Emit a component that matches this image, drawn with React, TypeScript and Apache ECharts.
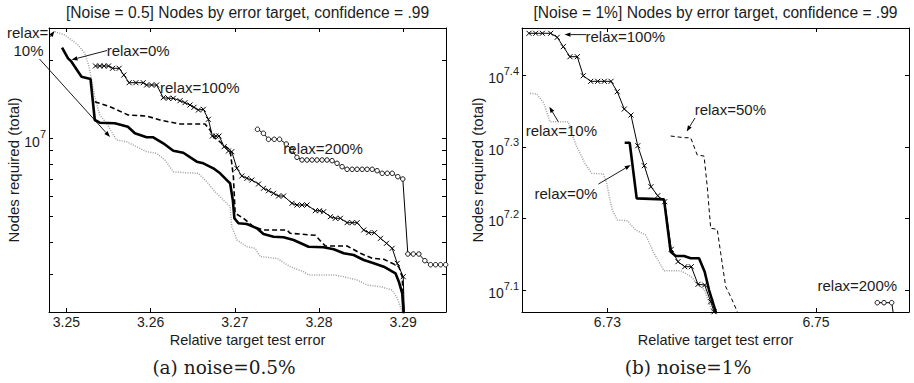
import React, { useEffect, useRef } from 'react';
import * as echarts from 'echarts';

// ---------- ticks ----------
const LEFT_X_TICKS = [3.25, 3.26, 3.27, 3.28, 3.29];
const RIGHT_X_TICKS = [6.73, 6.75];
const LEFT_Y_LABELS = [7];
const LEFT_Y_TICK_NODES = [3e6, 4e6, 5e6, 6e6, 7e6, 8e6, 9e6, 1e7, 2e7];
const RIGHT_Y_TICKS = [7.1, 7.2, 7.3, 7.4];

// ---------- data: [relative target test error, log10(nodes required)] ----------
// (a) noise = 0.5%
const leftRelax0 = [
  [3.24948, 7.3514], [3.25019, 7.3104], [3.2506, 7.2973], [3.25179, 7.2394], [3.25286, 7.2305],
  [3.25337, 7.0722], [3.25396, 7.0618], [3.25575, 7.0595], [3.2573, 7.0463], [3.25813, 7.0208],
  [3.25952, 7.0054], [3.26031, 7.0054], [3.2615, 6.9822], [3.26269, 6.9537], [3.26388, 6.9459],
  [3.26548, 6.9112], [3.26626, 6.905], [3.26745, 6.8857], [3.26825, 6.8664], [3.26944, 6.8278],
  [3.26976, 6.7633], [3.26995, 6.6927], [3.27043, 6.6734], [3.27143, 6.6707], [3.27262, 6.6541],
  [3.2734, 6.632], [3.2746, 6.6216], [3.27579, 6.6193], [3.27698, 6.6089], [3.27876, 6.583],
  [3.28055, 6.5807], [3.28174, 6.573], [3.28293, 6.5575], [3.28412, 6.551], [3.28531, 6.5317],
  [3.2865, 6.5189], [3.28769, 6.5058], [3.28908, 6.4803], [3.28948, 6.4479], [3.28988, 6.4031],
  [3.2901, 6.3]
];
const leftRelax10 = [
  [3.24861, 7.4131], [3.2498, 7.4004], [3.2506, 7.3811], [3.25138, 7.3618], [3.25218, 7.3297],
  [3.25269, 7.278], [3.25337, 7.1622], [3.25396, 7.0915], [3.25476, 7.0595], [3.25595, 6.995],
  [3.25714, 6.9884], [3.25833, 6.9691], [3.25952, 6.9498], [3.26071, 6.9436], [3.2617, 6.9178],
  [3.26269, 6.8726], [3.26408, 6.8687], [3.26567, 6.8664], [3.26667, 6.834], [3.26745, 6.8019],
  [3.26864, 6.7633], [3.26944, 6.7375], [3.26964, 6.6602], [3.27024, 6.6089], [3.27143, 6.583],
  [3.27242, 6.5768], [3.27301, 6.5444], [3.275, 6.5382], [3.27658, 6.5058], [3.27817, 6.4865],
  [3.27876, 6.4737], [3.28174, 6.4737], [3.28293, 6.4672], [3.28452, 6.4544], [3.28571, 6.4351],
  [3.2873, 6.4286], [3.28869, 6.4158], [3.28929, 6.3838], [3.28988, 6.332], [3.29004, 6.3]
];
const leftRelax50 = [
  [3.25337, 7.1429], [3.25515, 7.1236], [3.25733, 7.0915], [3.25952, 7.0876], [3.26111, 7.0722],
  [3.26349, 7.0568], [3.26646, 7.0568], [3.26706, 7.0336], [3.26745, 7.0077], [3.26885, 6.9718],
  [3.26944, 6.9564], [3.26983, 6.8533], [3.27004, 6.712], [3.27102, 6.6927], [3.27221, 6.6602],
  [3.2734, 6.6475], [3.27619, 6.6475], [3.27658, 6.6347], [3.27956, 6.627], [3.28015, 6.6062],
  [3.28075, 6.5857], [3.28333, 6.5857], [3.28492, 6.5575], [3.28631, 6.5382], [3.28769, 6.5344],
  [3.28869, 6.5189], [3.28948, 6.5058], [3.28988, 6.4672], [3.2901, 6.3]
];
const leftRelax100 = [
  [3.25345, 7.2807], [3.25396, 7.2807], [3.25448, 7.2807], [3.255, 7.2807], [3.25548, 7.2718],
  [3.25626, 7.2718], [3.25682, 7.2459], [3.25745, 7.2162], [3.25825, 7.2162], [3.25912, 7.2162],
  [3.25952, 7.2073], [3.26012, 7.2073], [3.26071, 7.2073], [3.2615, 7.1583], [3.2621, 7.156],
  [3.26269, 7.156], [3.26349, 7.1467], [3.26408, 7.139], [3.26468, 7.1301], [3.26515, 7.1212],
  [3.26567, 7.1108], [3.26626, 7.1135], [3.26686, 7.0749], [3.26733, 7.0104], [3.26774, 7.0104],
  [3.26813, 7.0104], [3.26873, 6.9691], [3.26924, 6.9525], [3.26964, 6.9498], [3.27024, 6.8857],
  [3.27083, 6.856], [3.27143, 6.8471], [3.27202, 6.8405], [3.27281, 6.8251], [3.2734, 6.8085],
  [3.274, 6.7992], [3.2746, 6.7892], [3.27519, 6.7788], [3.27579, 6.7788], [3.27679, 6.7506],
  [3.27738, 6.744], [3.27798, 6.744], [3.27857, 6.744], [3.27956, 6.722], [3.28007, 6.722],
  [3.28055, 6.7181], [3.28135, 6.6988], [3.28194, 6.6927], [3.28254, 6.6927], [3.28333, 6.6757],
  [3.28393, 6.6757], [3.28452, 6.6757], [3.28531, 6.6475], [3.2859, 6.6371], [3.28658, 6.6371],
  [3.2873, 6.6154], [3.28801, 6.5961], [3.28869, 6.5768], [3.28929, 6.5189], [3.29, 6.4672],
  [3.29015, 6.3]
];
const leftRelax200 = [
  [3.27269, 7.0363], [3.2734, 7.0208], [3.274, 6.9977], [3.27468, 6.9977], [3.27531, 6.9977],
  [3.27611, 6.9795], [3.27679, 6.9564], [3.27738, 6.9282], [3.27798, 6.9178], [3.27857, 6.9178],
  [3.27917, 6.9178], [3.27976, 6.9178], [3.28036, 6.9178], [3.28095, 6.9178], [3.28155, 6.9151],
  [3.28214, 6.905], [3.28274, 6.8919], [3.28333, 6.8819], [3.28393, 6.8819], [3.28452, 6.8819],
  [3.28512, 6.8819], [3.28571, 6.8819], [3.28631, 6.8819], [3.2869, 6.8764], [3.2875, 6.8664],
  [3.2881, 6.8664], [3.28869, 6.8664], [3.28936, 6.8533], [3.28995, 6.8444], [3.29055, 6.5548],
  [3.29119, 6.5548], [3.29186, 6.5548], [3.29257, 6.529], [3.29325, 6.5135], [3.29385, 6.5135],
  [3.29444, 6.5135], [3.29504, 6.5135]
];

// (b) noise = 1%
const rightRelax0 = [
  [6.73165, 7.3058], [6.73213, 7.3058], [6.7328, 7.2281], [6.73542, 7.2267], [6.73606, 7.1535],
  [6.73654, 7.1475], [6.73734, 7.1475], [6.73798, 7.1443], [6.73878, 7.1443], [6.73932, 7.1256],
  [6.73974, 7.1], [6.74038, 7.0697], [6.7405, 7.058]
];
const rightRelax10 = [
  [6.72257, 7.3749], [6.72321, 7.3739], [6.72391, 7.3609], [6.72448, 7.3352], [6.72624, 7.3352],
  [6.72657, 7.319], [6.72705, 7.3002], [6.72784, 7.277], [6.72848, 7.2631], [6.7296, 7.2621],
  [6.72992, 7.2491], [6.73024, 7.2258], [6.73046, 7.2118], [6.73094, 7.1978], [6.7319, 7.1968],
  [6.73271, 7.1838], [6.73366, 7.1769], [6.73446, 7.1513], [6.73542, 7.127], [6.73702, 7.127],
  [6.73804, 7.1186], [6.73868, 7.107], [6.73932, 7.1], [6.74005, 7.0697], [6.74017, 7.058]
];
const rightRelax50 = [
  [6.73606, 7.3152], [6.73734, 7.3128], [6.73798, 7.3128], [6.73861, 7.2886], [6.73926, 7.2872],
  [6.73957, 7.2443], [6.7399, 7.1862], [6.74053, 7.1848], [6.74086, 7.1513], [6.74134, 7.1046],
  [6.74182, 7.0907], [6.74245, 7.0697], [6.7427, 7.058]
];
const rightRelax100 = [
  [6.72247, 7.4587], [6.72311, 7.4587], [6.72375, 7.4587], [6.72455, 7.4587], [6.72518, 7.4531],
  [6.72576, 7.44], [6.7264, 7.426], [6.7271, 7.426], [6.72768, 7.3994], [6.72839, 7.3916],
  [6.72906, 7.3916], [6.72969, 7.3916], [6.73034, 7.3916], [6.73094, 7.3771], [6.73161, 7.3529],
  [6.73225, 7.3445], [6.7329, 7.3016], [6.73353, 7.2737], [6.73417, 7.2443], [6.73482, 7.2318],
  [6.73549, 7.2234], [6.73612, 7.1569], [6.73676, 7.1396], [6.73741, 7.1326], [6.73804, 7.1326],
  [6.73868, 7.108], [6.73932, 7.107], [6.7399, 7.0837], [6.74022, 7.0697], [6.74041, 7.058]
];
const rightRelax200 = [
  [6.75588, 7.0823], [6.75652, 7.0823], [6.75726, 7.0823], [6.75748, 7.061]
];

// ---------- styling ----------
const SANS = '"Liberation Sans", Arial, Helvetica, sans-serif';
const SERIF = '"DejaVu Serif", "Liberation Serif", serif';
const TEXT = '#1c1c1c';
const CROSS = 'path://M0 0L10 10M10 0L0 10';

const axisLine = { show: true, onZero: false, lineStyle: { color: '#000', width: 1 } };

function xAxes(grid: number, min: number, max: number, ticks: number[]) {
  return [
    {
      type: 'value', gridIndex: grid, min, max, position: 'bottom', axisLine,
      splitLine: { show: false },
      axisTick: { show: true, inside: true, length: 4, customValues: ticks, lineStyle: { color: '#000' } },
      axisLabel: {
        show: true, customValues: ticks, margin: 3, fontSize: 14, fontFamily: SANS, color: TEXT,
        formatter: (v: number) => String(v),
      },
    },
    {
      type: 'value', gridIndex: grid, min, max, position: 'top', axisLine,
      splitLine: { show: false },
      axisTick: { show: true, inside: true, length: 4, customValues: ticks, lineStyle: { color: '#000' } },
      axisLabel: { show: false },
    },
  ];
}

const supRich = {
  b: { fontSize: 14, fontFamily: SANS, color: TEXT, lineHeight: 20, verticalAlign: 'bottom' },
  s: { fontSize: 11, fontFamily: SANS, color: TEXT, lineHeight: 8, verticalAlign: 'top' },
};

function yAxes(grid: number, min: number, max: number, ticks: number[], labels: number[]) {
  return [
    {
      type: 'value', gridIndex: grid, min, max, position: 'left', axisLine,
      splitLine: { show: false },
      axisTick: { show: true, inside: true, length: 4, customValues: ticks, lineStyle: { color: '#000' } },
      axisLabel: {
        show: true, customValues: labels, margin: 3,
        formatter: (v: number) => `{b|10}{s|${+v.toFixed(2)}}`,
        rich: supRich,
      },
    },
    {
      type: 'value', gridIndex: grid, min, max, position: 'right', axisLine,
      splitLine: { show: false },
      axisTick: { show: true, inside: true, length: 4, customValues: ticks, lineStyle: { color: '#000' } },
      axisLabel: { show: false },
    },
  ];
}

type Kind = 'thick' | 'dotted' | 'dashed' | 'cross' | 'circle';
function series(data: number[][], xi: number, yi: number, kind: Kind, thin = false) {
  const base: any = {
    type: 'line', data, xAxisIndex: xi, yAxisIndex: yi, clip: true, silent: true,
    showSymbol: false, symbol: 'none',
  };
  if (kind === 'thick') base.lineStyle = { color: '#000', width: 2.6 };
  if (kind === 'dotted') base.lineStyle = { color: '#a0a0a0', width: 1.5, type: [1, 1.4] };
  if (kind === 'dashed') base.lineStyle = { color: '#000', width: thin ? 1 : 1.6, type: thin ? [4, 3] : [5, 3] };
  if (kind === 'cross') {
    base.lineStyle = { color: '#000', width: 1 };
    base.showSymbol = true; base.symbol = CROSS; base.symbolSize = 5;
    base.itemStyle = { color: 'none', borderColor: '#000', borderWidth: 1 };
  }
  if (kind === 'circle') {
    base.lineStyle = { color: '#000', width: 1 };
    base.showSymbol = true; base.symbol = 'circle'; base.symbolSize = 4.5;
    base.itemStyle = { color: '#fff', borderColor: '#000', borderWidth: 0.9 };
  }
  return base;
}

function txt(text: string, x: number, y: number, opts: any = {}) {
  return {
    type: 'text', x, y, rotation: opts.rotation || 0, z: 10,
    style: {
      text, x: 0, y: 0, fill: TEXT, fontSize: opts.size || 15,
      fontFamily: opts.family || SANS,
      align: opts.align || 'left', verticalAlign: 'middle',
      textAlign: opts.align || 'left', textVerticalAlign: 'middle',
    },
  };
}

function arrow(x1: number, y1: number, x2: number, y2: number) {
  const ang = Math.atan2(y2 - y1, x2 - x1);
  const L = 6, W = 2.2;
  const bx = x2 - L * Math.cos(ang), by = y2 - L * Math.sin(ang);
  const px = -Math.sin(ang) * W, py = Math.cos(ang) * W;
  return [
    { type: 'line', z: 10, shape: { x1, y1, x2: bx, y2: by }, style: { stroke: '#000', lineWidth: 0.9 } },
    { type: 'polygon', z: 10, shape: { points: [[x2, y2], [bx + px, by + py], [bx - px, by - py]] }, style: { fill: '#000' } },
  ];
}

export default function App() {
  const ref = useRef<HTMLDivElement>(null);
  useEffect(() => {
    if (!ref.current) return;
    const chart = echarts.init(ref.current, null, { renderer: 'svg' });
    const leftYTicks = LEFT_Y_TICK_NODES.map((n) => Math.log10(n));
    const option: any = {
      animation: false,
      backgroundColor: '#fff',
      grid: [
        { left: 49, top: 28, width: 397, height: 284 },
        { left: 522, top: 28, width: 387, height: 284 },
      ],
      xAxis: [
        ...xAxes(0, 3.24793, 3.29508, LEFT_X_TICKS),
        ...xAxes(1, 6.7218, 6.75892, RIGHT_X_TICKS),
      ],
      yAxis: [
        ...yAxes(0, 6.3309, 7.4274, leftYTicks, LEFT_Y_LABELS),
        ...yAxes(1, 7.0693, 7.4661, RIGHT_Y_TICKS, RIGHT_Y_TICKS),
      ],
      series: [
        series(leftRelax10, 0, 0, 'dotted'),
        series(leftRelax200, 0, 0, 'circle'),
        series(leftRelax100, 0, 0, 'cross'),
        series(leftRelax50, 0, 0, 'dashed'),
        series(leftRelax0, 0, 0, 'thick'),
        series(rightRelax10, 2, 2, 'dotted'),
        series(rightRelax200, 2, 2, 'circle'),
        series(rightRelax100, 2, 2, 'cross'),
        series(rightRelax50, 2, 2, 'dashed', true),
        series(rightRelax0, 2, 2, 'thick'),
      ],
      graphic: [
        // titles
        txt('[Noise = 0.5] Nodes by error target, confidence = .99', 247.5, 12, { align: 'center', size: 15.6 }),
        txt('[Noise = 1%] Nodes by error target, confidence = .99', 715.5, 12, { align: 'center', size: 15.6 }),
        // axis names
        txt('Relative target test error', 247.5, 339.5, { align: 'center', size: 14.5 }),
        txt('Relative target test error', 715.5, 339.5, { align: 'center', size: 14.5 }),
        txt('Nodes required (total)', 13.5, 170, { align: 'center', rotation: Math.PI / 2 }),
        txt('Nodes required (total)', 477, 170, { align: 'center', rotation: Math.PI / 2 }),
        // captions
        txt('(a) noise=0.5%', 224, 367.5, { align: 'center', size: 18.5, family: SERIF }),
        txt('(b) noise=1%', 688, 367.5, { align: 'center', size: 18.5, family: SERIF }),
        // annotations (a)
        txt('relax=', 7, 32),
        txt('10%', 28.5, 50, { align: 'center' }),
        ...arrow(49.5, 37.5, 54.5, 31),
        ...arrow(39.5, 59, 110, 137),
        txt('relax=0%', 106.7, 50),
        ...arrow(107, 50.5, 71.5, 59.8),
        txt('relax=100%', 160, 87.3),
        txt('relax=200%', 283.3, 148.3),
        // annotations (b)
        txt('relax=100%', 585.5, 36),
        ...arrow(586, 34.6, 564.5, 34.6),
        txt('relax=10%', 525.7, 130.5),
        ...arrow(558.3, 121.7, 549.3, 106.7),
        txt('relax=0%', 534.5, 193),
        ...arrow(598.5, 184, 630.7, 165),
        txt('relax=50%', 694.7, 109.3),
        ...arrow(695, 118, 686.7, 131.5),
        txt('relax=200%', 817.5, 285.7),
      ],
    };
    chart.setOption(option);
    return () => chart.dispose();
  }, []);
  return (
    <div
      ref={ref}
      style={{ position: 'fixed', left: 0, top: 0, width: 914, height: 383, background: '#fff' }}
    />
  );
}
